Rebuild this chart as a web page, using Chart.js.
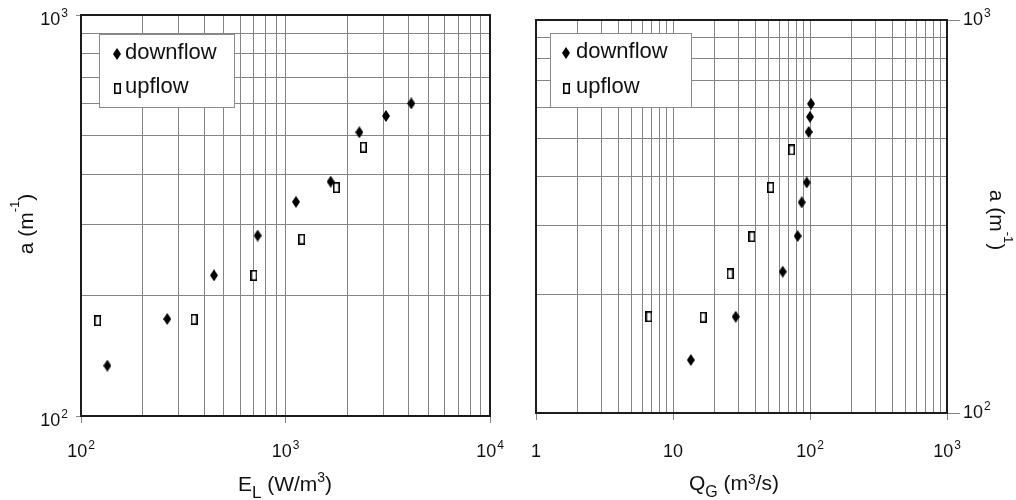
<!DOCTYPE html>
<html lang="en">

<head>
    <meta charset="UTF-8">
    <title>Interfacial area a</title>
    <style>
        body {
            margin: 0;
            background: #fff;
        }

        #wrap {
            position: relative;
            width: 1016px;
            height: 500px;
        }

        canvas {
            position: absolute;
            top: 0;
        }

        #leftChart {
            left: 0;
        }

        #rightChart {
            left: 500px;
        }
    </style>
</head>

<body>
    <div id="wrap">
        <!-- left canvas is a bit wider so the 10^4 label is not cut; the right one is transparent on top -->
        <canvas id="leftChart" width="530" height="500"></canvas>
        <canvas id="rightChart" width="516" height="500"></canvas>
    </div>

    <script src="https://cdn.jsdelivr.net/npm/chart.js"></script>

    <script>
        // series names
        const seriesNames = ['downflow', 'upflow'];

        // left panel: a (1/m) against power input E_L (W/m3)
        const elDown = [134.5, 264, 447, 731, 1125, 1663, 2296, 3100, 4123];
        const aDownEl = [133.5, 174.6, 224.3, 281.8, 342, 384, 510, 560, 602];
        const elUp = [120.6, 357, 701, 1200, 1773, 2402];
        const aUpEl = [172.9, 174.2, 224.3, 276, 371, 468];

        // right panel: a (1/m) against gas flow Q_G (m3/s)
        const qgDown = [13.5, 28.7, 63.2, 81.3, 87, 94.6, 97.8, 100, 101.7];
        const aDownQg = [136.4, 175.8, 228.9, 282, 343.6, 386, 519, 567, 612];
        const qgUp = [6.68, 16.6, 26.1, 37.7, 51.7, 73.5];
        const aUpQg = [175.8, 175.3, 225.8, 281, 375, 467];

        // decade tick labels
        const elTicks = [1e2, 1e3, 1e4];
        const qgTicks = [1, 10, 1e2, 1e3];
        const aTicks = [1e2, 1e3];

        const FONT = '"Liberation Sans", Arial, sans-serif';
        const INK = '#111';
        const GRID = '#858585';

        // marker bitmaps used as point styles
        function diamond(w, h) {
            const c = document.createElement('canvas');
            c.width = w;
            c.height = h;
            const g = c.getContext('2d');
            g.fillStyle = '#000';
            g.beginPath();
            g.moveTo(w / 2, 0);
            g.lineTo(w, h / 2);
            g.lineTo(w / 2, h);
            g.lineTo(0, h / 2);
            g.closePath();
            g.fill();
            return c;
        }

        function openBox(w, h) {
            const c = document.createElement('canvas');
            c.width = w;
            c.height = h;
            const g = c.getContext('2d');
            g.fillStyle = '#fff';
            g.fillRect(0, 0, w, h);
            g.strokeStyle = '#000';
            g.lineWidth = 1.6;
            g.strokeRect(0.8, 0.8, w - 1.6, h - 1.6);
            return c;
        }

        const downMark = diamond(8, 12);
        const upMark = openBox(7, 11);

        // gridline positions 1..9 x 10^n
        function logGrid(min, max) {
            const out = [];
            for (let e = Math.round(Math.log10(min)); Math.pow(10, e) <= max; e++) {
                for (let k = 1; k < 10; k++) {
                    const v = k * Math.pow(10, e);
                    if (v >= min && v <= max) out.push({ value: v, major: k === 1 });
                }
            }
            return out;
        }

        function logAxis(min, max, position, size, tickLen) {
            const horizontal = position === 'bottom';
            return {
                type: 'logarithmic',
                position: position,
                min: min,
                max: max,
                border: { display: false },
                grid: {
                    color: GRID,
                    lineWidth: 1,
                    drawTicks: true,
                    tickLength: tickLen,
                    tickColor: ctx => (ctx.tick && ctx.tick.major ? GRID : 'rgba(0,0,0,0)')
                },
                ticks: { display: false },
                afterBuildTicks: s => { s.ticks = logGrid(min, max); },
                afterFit: s => {
                    if (horizontal) s.height = size;
                    else s.width = size;
                }
            };
        }

        // "10" with a raised exponent
        function drawPower(ctx, v, x, y, align) {
            const e = Math.round(Math.log10(v));
            const base = e === 0 ? '1' : '10';
            const sup = e >= 2 ? String(e) : '';
            ctx.font = '18px ' + FONT;
            const bw = ctx.measureText(base).width;
            ctx.font = '12px ' + FONT;
            const sw = sup ? ctx.measureText(sup).width + 1 : 0;
            let x0 = x;
            if (align === 'right') x0 = x - bw - sw;
            if (align === 'center') x0 = x - (bw + sw) / 2;
            ctx.textAlign = 'left';
            ctx.textBaseline = 'alphabetic';
            ctx.fillStyle = INK;
            ctx.font = '18px ' + FONT;
            ctx.fillText(base, x0, y);
            if (sup) {
                ctx.font = '12px ' + FONT;
                ctx.fillText(sup, x0 + bw + 1, y - 8);
            }
        }

        // text runs with sub/superscripts: [text, size, dy]
        function drawRich(ctx, parts, x, y, rot) {
            ctx.save();
            ctx.translate(x, y);
            ctx.rotate(rot);
            ctx.fillStyle = INK;
            ctx.textAlign = 'left';
            ctx.textBaseline = 'alphabetic';
            let total = 0;
            parts.forEach(p => {
                ctx.font = p[1] + 'px ' + FONT;
                total += ctx.measureText(p[0]).width;
            });
            let cx = -total / 2;
            parts.forEach(p => {
                ctx.font = p[1] + 'px ' + FONT;
                ctx.fillText(p[0], cx, p[2]);
                cx += ctx.measureText(p[0]).width;
            });
            ctx.restore();
        }

        const frame = {
            id: 'frame',
            beforeDatasetsDraw(chart) {
                const { ctx, chartArea: a } = chart;
                ctx.save();
                ctx.strokeStyle = '#1c1c1c';
                ctx.lineWidth = 2;
                ctx.strokeRect(a.left, a.top, a.right - a.left, a.bottom - a.top);
                ctx.restore();
            }
        };

        const keyBox = {
            id: 'keyBox',
            afterDatasetsDraw(chart, args, o) {
                const ctx = chart.ctx;
                ctx.save();
                ctx.fillStyle = '#fff';
                ctx.fillRect(o.x, o.y, o.w, o.h);
                ctx.strokeStyle = '#8a8a8a';
                ctx.lineWidth = 1;
                ctx.strokeRect(o.x + 0.5, o.y + 0.5, o.w, o.h);
                ctx.font = '22px ' + FONT;
                ctx.fillStyle = INK;
                ctx.textAlign = 'left';
                ctx.textBaseline = 'alphabetic';
                chart.data.datasets.forEach((ds, i) => {
                    const base = o.y + o.firstBase + i * o.gap;
                    const img = ds.pointStyle;
                    ctx.drawImage(img, Math.round(o.x + o.markX - img.width / 2), Math.round(base - 5 - img.height / 2));
                    ctx.fillText(ds.label, o.x + o.textX, base);
                });
                ctx.restore();
            }
        };

        const powerTicks = {
            id: 'powerTicks',
            afterDraw(chart, args, o) {
                const ctx = chart.ctx;
                ctx.save();
                o.axes.forEach(ax => {
                    const s = chart.scales[ax.id];
                    ax.values.forEach(v => {
                        const p = s.getPixelForValue(v);
                        if (s.isHorizontal()) drawPower(ctx, v, p, ax.at, ax.align);
                        else drawPower(ctx, v, ax.at, p + ax.dy, ax.align);
                    });
                });
                ctx.restore();
            }
        };

        const titles = {
            id: 'titles',
            afterDraw(chart, args, o) {
                o.items.forEach(t => drawRich(chart.ctx, t.parts, t.x, t.y, t.rot));
            }
        };

        const aTitle = [['a (m', 21, 0], ['-1', 13, -14], [')', 21, 0]];

        function makeChart(id, xs, opts) {
            return new Chart(document.getElementById(id), {
                type: 'scatter',
                data: {
                    datasets: [
                        {
                            label: seriesNames[0],
                            data: xs.down.map((x, i) => ({ x: x, y: xs.aDown[i] })),
                            pointStyle: downMark,
                            pointRadius: 6
                        },
                        {
                            label: seriesNames[1],
                            data: xs.up.map((x, i) => ({ x: x, y: xs.aUp[i] })),
                            pointStyle: upMark,
                            pointRadius: 6
                        }
                    ]
                },
                options: {
                    responsive: false,
                    animation: false,
                    events: [],
                    layout: { padding: opts.padding },
                    scales: {
                        x: logAxis(opts.xMin, opts.xMax, 'bottom', opts.xSize, 7),
                        y: logAxis(100, 1000, opts.yPos, opts.ySize, opts.yTick)
                    },
                    plugins: {
                        legend: { display: false },
                        tooltip: { enabled: false },
                        keyBox: opts.key,
                        powerTicks: opts.ticks,
                        titles: opts.titles
                    }
                },
                plugins: [frame, keyBox, powerTicks, titles]
            });
        }

        makeChart('leftChart', { down: elDown, aDown: aDownEl, up: elUp, aUp: aUpEl }, {
            xMin: 100, xMax: 10000, xSize: 84,
            yPos: 'left', ySize: 81, yTick: 5,
            padding: { top: 15, right: 40, left: 0, bottom: 0 },
            key: { x: 99, y: 34, w: 135, h: 73, firstBase: 25, gap: 34, markX: 18, textX: 26 },
            ticks: {
                axes: [
                    { id: 'x', values: elTicks, at: 457, align: 'center' },
                    { id: 'y', values: aTicks, at: 68, dy: 10, align: 'right' }
                ]
            },
            titles: {
                items: [
                    { parts: [['E', 21, 0], ['L', 17, 7], [' (W/m', 21, 0], ['3', 14, -9], [')', 21, 0]], x: 285, y: 491, rot: 0 },
                    { parts: aTitle, x: 33, y: 224, rot: -Math.PI / 2 }
                ]
            }
        });

        makeChart('rightChart', { down: qgDown, aDown: aDownQg, up: qgUp, aUp: aUpQg }, {
            xMin: 1, xMax: 1000, xSize: 87,
            yPos: 'right', ySize: 69, yTick: 13,
            padding: { top: 20, right: 0, left: 36, bottom: 0 },
            key: { x: 50, y: 33, w: 141, h: 74, firstBase: 25, gap: 35, markX: 16, textX: 26 },
            ticks: {
                axes: [
                    { id: 'x', values: qgTicks, at: 457, align: 'center' },
                    { id: 'y', values: aTicks, at: 463, dy: 5, align: 'left' }
                ]
            },
            titles: {
                items: [
                    { parts: [['Q', 21, 0], ['G', 16, 7], [' (m', 21, 0], ['3', 14, -6], ['/s)', 21, 0]], x: 234, y: 490, rot: 0 },
                    { parts: aTitle, x: 490, y: 220, rot: Math.PI / 2 }
                ]
            }
        });
    </script>
</body>

</html>
